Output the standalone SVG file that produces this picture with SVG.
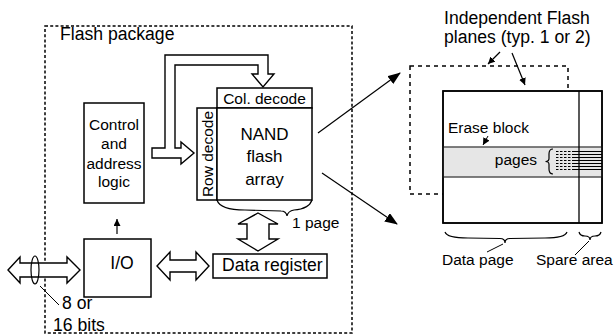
<svg xmlns="http://www.w3.org/2000/svg" width="614" height="335" viewBox="0 0 614 335">
<style>
text{font-family:"Liberation Sans",Arial,sans-serif;fill:#000}
.box{fill:#fff;stroke:#000;stroke-width:1.5}
.pipe{fill:#fff;stroke:#000;stroke-width:1.4;stroke-linejoin:miter}
.ln{fill:none;stroke:#000;stroke-width:1.2}
.dash{fill:none;stroke:#000;stroke-width:1.5;stroke-dasharray:3,2.2}
.s155{font-size:15.5px}
.s17{font-size:17.6px}
.s17n{font-size:17px}
</style>
<defs>
<marker id="big" markerWidth="14" markerHeight="12" refX="12" refY="5" orient="auto" markerUnits="userSpaceOnUse">
<path d="M0,0 L13,5 L0,10 z" fill="#000"/>
</marker>
<marker id="sm" markerWidth="8" markerHeight="8" refX="7" refY="3.5" orient="auto" markerUnits="userSpaceOnUse">
<path d="M0,0 L7,3.5 L0,7 z" fill="#000"/>
</marker>
</defs>

<g id="flash-package">
<rect x="45" y="26" width="307" height="307" class="dash"/>
<text x="60" y="40" class="s17">Flash package</text>
</g>

<g id="plane-back">
<rect x="410" y="66" width="158" height="128" fill="none" stroke="#000" stroke-width="1.5" stroke-dasharray="4,4"/>
</g>

<g id="control">
<rect x="84" y="103" width="60" height="100" class="box"/>
<text x="114" y="129.5" class="s155" text-anchor="middle">Control</text>
<text x="114" y="149" class="s155" text-anchor="middle">and</text>
<text x="114" y="168.5" class="s155" text-anchor="middle">address</text>
<text x="114" y="187" class="s155" text-anchor="middle">logic</text>
</g>

<g id="col-decode">
<rect x="217" y="88" width="95" height="20" class="box"/>
<text x="264.5" y="104" class="s155" text-anchor="middle">Col. decode</text>
</g>

<g id="row-decode">
<rect x="197" y="108" width="20" height="92" class="box"/>
<text transform="translate(212.5,154) rotate(-90)" class="s155" text-anchor="middle">Row decode</text>
</g>

<g id="nand-array">
<rect x="217" y="108" width="95" height="92" class="box"/>
<text x="264.5" y="139.5" class="s17n" text-anchor="middle">NAND</text>
<text x="264.5" y="162" class="s17n" text-anchor="middle">flash</text>
<text x="264.5" y="185" class="s17n" text-anchor="middle">array</text>
<path d="M217,200 Q220,210 245,210 L281,211 Q286,211 287,216 Q288,211 294,210 Q309,209 312,200" class="ln"/>
<text x="292" y="228" class="s155">1 page</text>
</g>

<g id="io">
<rect x="84" y="239" width="67" height="58" class="box"/>
<text x="122" y="269" class="s17" text-anchor="middle">I/O</text>
</g>

<g id="data-register">
<rect x="213" y="254" width="114" height="24" class="box"/>
<text x="222" y="270.5" class="s17">Data register</text>
</g>

<g id="plane">
<rect x="443" y="91" width="159" height="132" class="box"/>
<rect x="443" y="147" width="159" height="30" fill="#e6e6e6" stroke="#555" stroke-width="1.5"/>
<line x1="579" y1="91" x2="579" y2="223" stroke="#000" stroke-width="1.3"/>
<g stroke="#000" stroke-width="1">
<g stroke-dasharray="2.5,1.5">
<line x1="556" y1="151.5" x2="573" y2="151.5"/>
<line x1="556" y1="154.5" x2="573" y2="154.5"/>
<line x1="556" y1="157.5" x2="573" y2="157.5"/>
<line x1="556" y1="160.5" x2="573" y2="160.5"/>
<line x1="556" y1="163.5" x2="573" y2="163.5"/>
<line x1="556" y1="166.5" x2="573" y2="166.5"/>
<line x1="556" y1="169.5" x2="573" y2="169.5"/>
</g>
<line x1="573" y1="151.5" x2="602" y2="151.5"/>
<line x1="573" y1="154.5" x2="602" y2="154.5"/>
<line x1="573" y1="157.5" x2="602" y2="157.5"/>
<line x1="573" y1="160.5" x2="602" y2="160.5"/>
<line x1="573" y1="163.5" x2="602" y2="163.5"/>
<line x1="573" y1="166.5" x2="602" y2="166.5"/>
<line x1="573" y1="169.5" x2="602" y2="169.5"/>
</g>
<rect x="443" y="91" width="159" height="132" fill="none" stroke="#000" stroke-width="1.5"/>
<text x="448" y="133" class="s155">Erase block</text>
<text x="537" y="165" class="s155" text-anchor="end">pages</text>
<path d="M553,149 Q549,149 549,154 L549,158.5 Q549,161.5 545.5,161.5 Q549,161.5 549,164.5 L549,169 Q549,174 553,174" class="ln"/>
<path d="M445,232 Q447,238 468,238 L500,238.5 Q505,238.5 505,243 Q505,238.5 510,238.5 L545,238 Q565,238 567,232" class="ln"/>
<path d="M579,232 Q580,236 585,236 Q590,236 590,240 Q590,236 595,236 Q600,236 601,232" class="ln"/>
<text x="442" y="265" class="s155">Data page</text>
<text x="536" y="265" class="s155">Spare area</text>
</g>

<g id="plane-label">
<text x="444" y="24" class="s17">Independent Flash</text>
<text x="444" y="43" class="s17">planes (typ. 1 or 2)</text>
</g>

<g id="connectors">
<path class="pipe" d="M152,148 L165,148 L165,55 L268,55 L268,74 L274,74 L263,87 L252,74 L258,74 L258,65 L175,65 L175,148 L181,148 L181,142 L194,153 L181,164 L181,158 L152,158 Z"/>
<path class="pipe" d="M8,270 L20,257 L20,263 L67,263 L67,257 L80,270 L67,283 L67,277 L20,277 L20,283 Z"/>
<ellipse cx="35" cy="270" rx="4" ry="14" fill="none" stroke="#000" stroke-width="1.2"/>
<line x1="40" y1="286" x2="59" y2="305" stroke="#000" stroke-width="1"/>
<text x="62" y="309" class="s17">8 or</text>
<text x="53" y="331" class="s17">16 bits</text>
<path class="pipe" d="M157,266 L170,252 L170,260 L196,260 L196,252 L209,266 L196,280 L196,272 L170,272 L170,280 Z"/>
<path class="pipe" d="M258,213 L278,224 L269,224 L269,239 L278,239 L258,251 L238,239 L247,239 L247,224 L238,224 Z"/>
<line x1="117" y1="234" x2="117" y2="219" class="ln" marker-end="url(#sm)"/>
<line x1="318" y1="133" x2="400" y2="73" class="ln" marker-end="url(#big)"/>
<line x1="322" y1="173" x2="397" y2="224" class="ln" marker-end="url(#big)"/>
<line x1="500" y1="52" x2="488" y2="64" class="ln" marker-end="url(#sm)"/>
<line x1="512" y1="53" x2="525" y2="85" class="ln" marker-end="url(#sm)"/>
<line x1="488" y1="136" x2="483" y2="145" stroke="#000" stroke-width="1" marker-end="url(#sm)"/>
<line x1="503" y1="244" x2="487" y2="252" stroke="#000" stroke-width="1"/>
<line x1="589" y1="241" x2="575" y2="255" stroke="#000" stroke-width="1"/>
</g>
</svg>
